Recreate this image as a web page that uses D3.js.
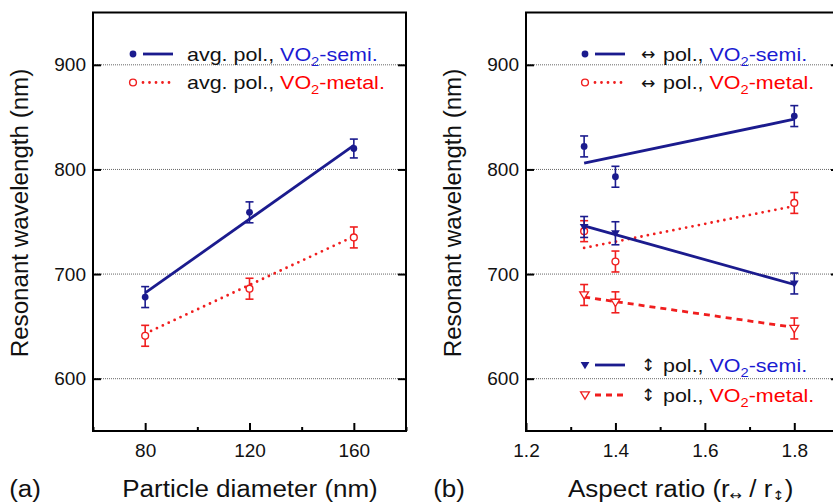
<!DOCTYPE html>
<html>
<head>
<meta charset="utf-8">
<script src="https://cdn.jsdelivr.net/npm/d3@7"></script>
<style>
  html, body { margin: 0; padding: 0; background: #fff; }
  svg { display: block; font-family: "Liberation Sans", Arial, Helvetica, sans-serif; }
</style>
</head>
<body>
<svg id="chart" width="833" height="504"></svg>
<script>
// ---- data ----
const diameters = [80, 120, 160];
const avgSemi = [678, 759, 820];
const avgSemiErr = [10, 10, 9];
const avgMetal = [641, 686, 735];
const avgMetalErr = [10, 10, 10];
const avgSemiFit = [682, 823];      // fit values at 80 and 160 nm
const avgMetalFit = [643, 736];

const ratios = [1.33, 1.4, 1.8];
const hSemi = [822, 793, 851];
const hSemiErr = [10, 10, 10];
const hMetal = [741, 712, 768];
const hMetalErr = [10, 10, 10];
const vSemi = [745, 739, 691];
const vSemiErr = [10, 11, 10];
const vMetal = [680, 673, 648];
const vMetalErr = [10, 10, 10];
const hSemiFit = [806, 848];        // fit values at 1.33 and 1.8
const hMetalFit = [725, 765];
const vSemiFit = [746, 690];
const vMetalFit = [678, 649];

const yTicks = [600, 700, 800, 900];
const xTicksA = [80, 120, 160];
const xMinorA = [60, 100, 140, 180];
const xTicksB = [1.2, 1.4, 1.6, 1.8];
const xMinorB = [1.3, 1.5, 1.7, 1.9];

// ---- styles ----
const NAVY = "#1b1b8e";
const RED = "#f01e1e";
const TXT_BLUE = "#1a1ad2";
const TXT_RED = "#ff0000";
const WIDEN = 1.13;   // horizontal stretch of the lettering

const svg = d3.select("#chart");
svg.append("rect").attr("width", 833).attr("height", 504).attr("fill", "#fff");

const plotTop = 12.5, plotBottom = 431, W = 313;
const y = d3.scaleLinear().domain([550, 950]).range([plotBottom, plotTop]);

function panel(x0, xDomain, majors, minors, fmt) {
  const g = svg.append("g");
  const x = d3.scaleLinear().domain(xDomain).range([x0, x0 + W]);
  // grid
  g.selectAll("line.grid").data(yTicks).join("line")
    .attr("x1", x0).attr("x2", x0 + W)
    .attr("y1", d => y(d)).attr("y2", d => y(d))
    .attr("stroke", "#666").attr("stroke-width", 1).attr("stroke-dasharray", "1,1");
  // bottom axis (inward ticks)
  const ax = d3.axisBottom(x).tickValues(majors).tickSize(-8).tickPadding(13).tickFormat(fmt);
  const gx = g.append("g").attr("transform", `translate(0,${plotBottom})`).call(ax);
  gx.select(".domain").remove();
  gx.selectAll(".tick line").attr("stroke-width", 2);
  gx.selectAll(".tick text").attr("font-size", 19).attr("fill", "#111").attr("font-family", "Liberation Sans, Arial, sans-serif");
  const axm = d3.axisBottom(x).tickValues(minors).tickSize(-4).tickFormat("");
  const gxm = g.append("g").attr("transform", `translate(0,${plotBottom})`).call(axm);
  gxm.select(".domain").remove();
  gxm.selectAll(".tick line").attr("stroke-width", 2);
  // left axis
  const ay = d3.axisLeft(y).tickValues(yTicks).tickSize(-8).tickPadding(7);
  const gy = g.append("g").attr("transform", `translate(${x0},0)`).call(ay);
  gy.select(".domain").remove();
  gy.selectAll(".tick line").attr("stroke-width", 2);
  gy.selectAll(".tick text").attr("font-size", 19).attr("fill", "#111").attr("font-family", "Liberation Sans, Arial, sans-serif");
  // right mirrored ticks
  const ayr = d3.axisRight(y).tickValues(yTicks).tickSize(-8).tickFormat("");
  const gyr = g.append("g").attr("transform", `translate(${x0 + W},0)`).call(ayr);
  gyr.select(".domain").remove();
  gyr.selectAll(".tick line").attr("stroke-width", 2);
  // frame
  g.append("rect").attr("x", x0).attr("y", plotTop).attr("width", W).attr("height", plotBottom - plotTop)
    .attr("fill", "none").attr("stroke", "#000").attr("stroke-width", 2);
  return { g, x };
}

function series(p, xs, vals, errs, color, marker) {
  const g = p.g.append("g");
  xs.forEach((xv, i) => {
    const cx = p.x(xv), lo = y(vals[i] - errs[i]), hi = y(vals[i] + errs[i]);
    g.append("line").attr("x1", cx).attr("x2", cx).attr("y1", lo).attr("y2", hi)
      .attr("stroke", color).attr("stroke-width", 1.6);
    [lo, hi].forEach(yy => g.append("line").attr("x1", cx - 4).attr("x2", cx + 4)
      .attr("y1", yy).attr("y2", yy).attr("stroke", color).attr("stroke-width", 1.6));
  });
  xs.forEach((xv, i) => drawMarker(g, p.x(xv), y(vals[i]), color, marker));
}

function drawMarker(g, cx, cy, color, marker) {
  if (marker === "dot") {
    g.append("circle").attr("cx", cx).attr("cy", cy).attr("r", 3.4).attr("fill", color);
  } else if (marker === "ring") {
    g.append("circle").attr("cx", cx).attr("cy", cy).attr("r", 3.4)
      .attr("fill", "#fff").attr("stroke", color).attr("stroke-width", 1.4);
  } else {
    const s = 4.4;
    const path = `M${cx - s},${cy - s * 0.7}L${cx + s},${cy - s * 0.7}L${cx},${cy + s * 0.95}Z`;
    if (marker === "tri") g.append("path").attr("d", path).attr("fill", color);
    else g.append("path").attr("d", path).attr("fill", "#fff").attr("stroke", color).attr("stroke-width", 1.3);
  }
}

function fit(p, xEnds, vEnds, color, dash) {
  const line = d3.line().x(d => p.x(d[0])).y(d => y(d[1]));
  p.g.append("path").attr("d", line([[xEnds[0], vEnds[0]], [xEnds[1], vEnds[1]]]))
    .attr("fill", "none").attr("stroke", color).attr("stroke-width", 2.8)
    .attr("stroke-dasharray", dash).attr("stroke-linecap", dash === "0,6.5" ? "round" : "butt");
}

// text placed at (x, y) and stretched horizontally
function wideText(x, yy, size, anchor) {
  return svg.append("g").attr("transform", `translate(${x},${yy}) scale(${WIDEN},1)`)
    .append("text").attr("font-size", size).attr("fill", "#111").attr("text-anchor", anchor || "start");
}

function legendItem(cx, cy, color, marker, dash, arrow, prefix, material, matColor) {
  const g = svg.append("g");
  g.append("line").attr("x1", cx + 10).attr("x2", cx + 40).attr("y1", cy).attr("y2", cy)
    .attr("stroke", color).attr("stroke-width", 2.8).attr("stroke-dasharray", dash)
    .attr("stroke-linecap", dash === "0,6.5" ? "round" : "butt");
  drawMarker(g, cx, cy, color, marker);
  let tx = cx + 54;
  if (arrow) {
    g.append("text").attr("x", cx + 63).attr("y", cy + 6).attr("text-anchor", "middle")
      .attr("font-size", 17).attr("font-family", "DejaVu Sans, sans-serif").attr("fill", "#111").text(arrow);
    tx = cx + 78;
  }
  const t = wideText(tx, cy + 6.5, 19);
  t.append("tspan").text(prefix);
  t.append("tspan").attr("fill", matColor).text("VO");
  t.append("tspan").attr("fill", matColor).attr("font-size", 13).attr("dy", 5).text("2");
  t.append("tspan").attr("fill", matColor).attr("dy", -5).text("-" + material);
}

// ---- panel (a) ----
const pa = panel(93, [60, 180], xTicksA, xMinorA, d3.format("d"));
fit(pa, [80, 160], avgSemiFit, NAVY, null);
fit(pa, [80, 160], avgMetalFit, RED, "0,6.5");
series(pa, diameters, avgSemi, avgSemiErr, NAVY, "dot");
series(pa, diameters, avgMetal, avgMetalErr, RED, "ring");
legendItem(133, 54, NAVY, "dot", null, null, "avg. pol., ", "semi.", TXT_BLUE);
legendItem(133, 82.5, RED, "ring", "0,6.5", null, "avg. pol., ", "metal.", TXT_RED);

// ---- panel (b) ----
const pb = panel(526, [1.2, 1.9], xTicksB, xMinorB, d3.format(".1f"));
fit(pb, [1.33, 1.8], hSemiFit, NAVY, null);
fit(pb, [1.33, 1.8], hMetalFit, RED, "0,6.5");
fit(pb, [1.33, 1.8], vSemiFit, NAVY, null);
fit(pb, [1.33, 1.8], vMetalFit, RED, "6,5");
series(pb, ratios, hSemi, hSemiErr, NAVY, "dot");
series(pb, ratios, hMetal, hMetalErr, RED, "ring");
series(pb, ratios, vSemi, vSemiErr, NAVY, "tri");
series(pb, ratios, vMetal, vMetalErr, RED, "triOpen");
legendItem(585, 54, NAVY, "dot", null, "\u2194", "pol., ", "semi.", TXT_BLUE);
legendItem(585, 82.5, RED, "ring", "0,6.5", "\u2194", "pol., ", "metal.", TXT_RED);
legendItem(585, 365, NAVY, "tri", null, "\u2195", "pol., ", "semi.", TXT_BLUE);
legendItem(585, 395, RED, "triOpen", "6,5", "\u2195", "pol., ", "metal.", TXT_RED);

// ---- axis titles ----
function yTitle(xc) {
  svg.append("text").attr("transform", `translate(${xc},213) rotate(-90) scale(1.05,1)`)
    .attr("text-anchor", "middle").attr("font-size", 23).attr("fill", "#111")
    .text("Resonant wavelength (nm)");
}
yTitle(28);
yTitle(461);

wideText(250, 497, 23, "middle").text("Particle diameter (nm)");
wideText(25, 497, 23, "middle").text("(a)");
wideText(449, 497, 23, "middle").text("(b)");

const xt = wideText(568, 497, 23);
xt.append("tspan").text("Aspect ratio (r");
xt.append("tspan").attr("font-size", 13).attr("dy", 3).attr("font-family", "DejaVu Sans, sans-serif").text("\u2194");
xt.append("tspan").attr("dy", -3).text(" / r");
xt.append("tspan").attr("font-size", 13).attr("dy", 3).attr("font-family", "DejaVu Sans, sans-serif").text("\u2195");
xt.append("tspan").attr("dy", -3).text(")");
</script>
</body>
</html>
